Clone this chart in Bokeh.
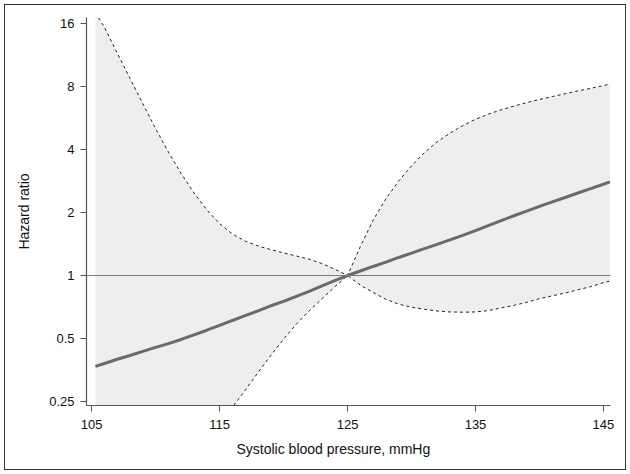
from bokeh.plotting import figure
from bokeh.models import Range1d, FixedTicker, Span, Title
from bokeh.embed import file_html
from bokeh.resources import INLINE

# Systolic blood pressure grid (mmHg)
sbp = [105.3, 106, 107, 108, 109, 110, 111, 112, 113, 114, 115, 116, 117, 118, 119,
       120, 121, 122, 123, 124, 125, 126, 127, 128, 129, 130, 131, 132, 133, 134,
       135, 136, 137, 138, 139, 140, 141, 142, 143, 144, 145, 145.5]

# Hazard ratio (point estimate)
hr = [0.368, 0.38, 0.398, 0.415, 0.434, 0.454, 0.473, 0.495, 0.521, 0.548, 0.578,
      0.61, 0.643, 0.678, 0.717, 0.752, 0.795, 0.84, 0.892, 0.946, 1.0,
      1.051, 1.105, 1.16, 1.22, 1.28, 1.345, 1.41, 1.48, 1.555, 1.64,
      1.73, 1.83, 1.93, 2.03, 2.14, 2.25, 2.36, 2.48, 2.6, 2.73, 2.8]

# Upper 95% confidence limit
hr_upper = [18.0, 15.35, 11.55, 8.75, 6.63, 5.03, 3.89, 3.07, 2.48, 2.06, 1.77,
            1.58, 1.46, 1.385, 1.33, 1.283, 1.24, 1.197, 1.141, 1.072, 1.0,
            1.376, 1.84, 2.33, 2.83, 3.34, 3.86, 4.35, 4.79, 5.2, 5.58,
            5.9, 6.19, 6.45, 6.7, 6.94, 7.16, 7.39, 7.62, 7.84, 8.08, 8.22]

# Lower 95% confidence limit
hr_lower = [0.012, 0.015, 0.02, 0.028, 0.037, 0.05, 0.065, 0.082, 0.104, 0.13, 0.165,
            0.235, 0.283, 0.344, 0.415, 0.497, 0.586, 0.678, 0.774, 0.883, 1.0,
            0.9, 0.83, 0.77, 0.73, 0.705, 0.69, 0.677, 0.67, 0.668, 0.67,
            0.68, 0.7, 0.72, 0.745, 0.775, 0.8, 0.825, 0.855, 0.885, 0.925, 0.94]

y_ticks = [0.25, 0.5, 1, 2, 4, 8, 16]
y_tick_labels = ["0.25", "0.5", "1", "2", "4", "8", "16"]
x_ticks = [105, 115, 125, 135, 145]

FONT = "Liberation Sans"

p = figure(width=630, height=474, output_backend="svg", toolbar_location=None,
           y_axis_type="log",
           x_range=Range1d(104.6, 145.55), y_range=Range1d(0.2394, 17.09),
           min_border_left=86, min_border_right=20, min_border_top=17,
           min_border_bottom=69)
p.outline_line_color = None
p.xgrid.visible = False
p.ygrid.visible = False
p.background_fill_color = "white"
p.border_fill_color = None
p.styles = {"background-color": "white",
            "outline": "1px solid #333333", "outline-offset": "-5px"}

p.varea(x=sbp, y1=hr_lower, y2=hr_upper, fill_color="#eeeeee")

p.add_layout(Span(location=1, dimension="width", line_color="#7a7a7a", line_width=1))

p.line(sbp, hr_upper, line_color="#222222", line_width=1, line_dash="3 3")
p.line(sbp, hr_lower, line_color="#222222", line_width=1, line_dash="3 3")
p.line(sbp, hr, line_color="#6a6a6a", line_width=3)

for ax in (p.xaxis[0], p.yaxis[0]):
    ax.axis_line_color = "#555555"
    ax.axis_line_width = 1.2
    ax.major_tick_line_color = "#555555"
    ax.major_tick_out = 6
    ax.major_tick_in = 0
    ax.minor_tick_out = 0
    ax.minor_tick_in = 0
    ax.major_label_text_font = FONT
    ax.major_label_text_font_size = "13px"
    ax.major_label_text_color = "#111111"
    ax.axis_label_text_font = FONT
    ax.axis_label_text_font_size = "14px"
    ax.axis_label_text_font_style = "normal"
    ax.axis_label_text_color = "#111111"

p.xaxis.ticker = FixedTicker(ticks=x_ticks)
p.xaxis.major_label_standoff = 8

p.yaxis.ticker = FixedTicker(ticks=y_ticks)
p.yaxis.major_label_overrides = dict(zip(y_ticks, y_tick_labels))
p.yaxis.axis_label = "Hazard ratio"
p.yaxis.major_label_standoff = 6
p.yaxis.axis_label_standoff = 14
p.yaxis.major_label_orientation = "horizontal"

# x-axis title, placed as in the original (slightly left of the axis centre)
p.add_layout(Title(text="Systolic blood pressure, mmHg", align="left", offset=150,
                   text_font=FONT, text_font_size="14px", text_font_style="normal",
                   text_color="#111111", standoff=14), "below")

open("out.html", "w").write(file_html(p, INLINE))
